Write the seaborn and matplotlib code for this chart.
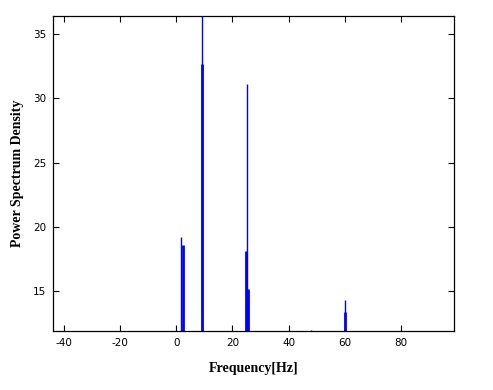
import matplotlib
matplotlib.use("Agg")
import matplotlib.pyplot as plt
import seaborn as sns
import numpy as np

sns.set_style("white")

# Spectral peaks (frequency in Hz, PSD value)
thin_freq = [1.8, 9.3, 25.0, 48.0, 60.0]
thin_psd = [19.2, 38.0, 31.1, 12.0, 14.3]
thick_freq = [2.2, 9.0, 24.8, 25.4, 60.1]
thick_psd = [18.6, 32.7, 18.1, 15.2, 13.4]

xticks = [-40, -20, 0, 20, 40, 60, 80]
yticks = [15, 20, 25, 30, 35]

fig = plt.figure(figsize=(4.93, 3.90), dpi=100)
ax = fig.add_axes([0.1075, 0.151, 0.8135, 0.808])

ymin = 11.9
ax.vlines(thin_freq, ymin - 1, thin_psd, color="#0000ff", linewidth=1.0)
ax.vlines(thick_freq, ymin - 1, thick_psd, color="#0000ff", linewidth=2.0)

ax.set_xlim(-44, 99)
ax.set_ylim(ymin, 36.4)
ax.set_xticks(xticks)
ax.set_yticks(yticks)
ax.set_xticklabels([str(t) for t in xticks], fontsize=7.5, family="DejaVu Sans")
ax.set_yticklabels([str(t) for t in yticks], fontsize=7.5, family="DejaVu Sans")
ax.tick_params(direction="in", length=4, width=0.8, top=True, right=True,
               bottom=True, left=True, colors="black", labelcolor="black", pad=5)
for s in ax.spines.values():
    s.set_visible(True)
    s.set_color("black")
    s.set_linewidth(0.9)

ax.set_xlabel("Frequency[Hz]", fontsize=10, fontweight="bold", color="black",
              family="Liberation Serif", labelpad=10)
ax.set_ylabel("Power Spectrum Density", fontsize=10, fontweight="bold", color="black",
              family="Liberation Serif", labelpad=6)

fig.savefig("out.png", dpi=100, facecolor="white")
